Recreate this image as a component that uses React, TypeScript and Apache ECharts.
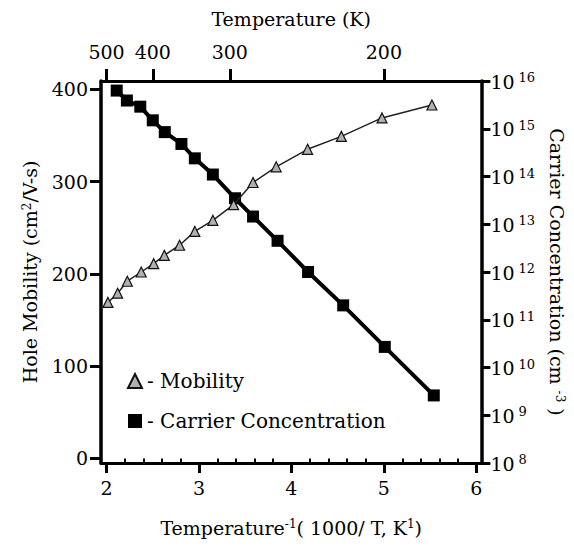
import React, { useEffect, useRef } from 'react';
import * as echarts from 'echarts';

// 1000/T (K^-1) positions of the carrier-concentration points
const invTConc = [2.11, 2.22, 2.365, 2.5, 2.63, 2.81, 2.955, 3.15, 3.39, 3.585, 3.85, 4.18, 4.56, 5.01, 5.54];
// carrier concentration (cm^-3)
const concentration = [6.3e15, 3.9e15, 2.9e15, 1.5e15, 8.5e14, 4.8e14, 2.4e14, 1.1e14, 3.5e13, 1.45e13, 4.5e12, 1.0e12, 2.0e11, 2.7e10, 2.6e9];
// 1000/T positions of the mobility points
const invTMob = [2.015, 2.12, 2.225, 2.375, 2.51, 2.625, 2.79, 2.955, 3.15, 3.375, 3.585, 3.835, 4.175, 4.54, 4.98, 5.52];
// hole mobility (cm^2/V-s)
const mobility = [169, 179, 192, 202, 211, 220, 231, 246, 258, 275, 299, 316, 335, 349, 369, 383];

const bottomTicks = [2, 3, 4, 5, 6];
const bottomMinorTicks = [2.2, 2.4, 2.6, 2.8, 3.2, 3.4, 3.6, 3.8, 4.2, 4.4, 4.6, 4.8, 5.2, 5.4, 5.6, 5.8];
const topTempsK = [500, 400, 300, 200];
const mobilityTicks = [0, 100, 200, 300, 400];
const concTicks = [1e8, 1e9, 1e10, 1e11, 1e12, 1e13, 1e14, 1e15, 1e16];

const FONT = 'DejaVu Serif';
const X_MIN = 1.94;
const X_MAX = 6.055;

export default function App() {
  const ref = useRef<HTMLDivElement>(null);
  useEffect(() => {
    if (!ref.current) return;
    const chart = echarts.init(ref.current, undefined, { renderer: 'svg' });
    const axisLine = { show: true, onZero: false, lineStyle: { color: '#000', width: 3 } };
    const supRich = { sup: { fontSize: 12, fontFamily: FONT, color: '#000', verticalAlign: 'top', lineHeight: 12, padding: [0, 0, 8, 0] } };
    const option: any = {
      animation: false,
      backgroundColor: '#fff',
      grid: { left: 101, right: 92, top: 81, bottom: 83, containLabel: false },
      xAxis: [
        {
          type: 'value', position: 'bottom', min: X_MIN, max: X_MAX,
          axisLine,
          axisTick: { show: true, customValues: bottomTicks, length: 10, lineStyle: { color: '#000', width: 3 } },
          axisLabel: { customValues: bottomTicks, fontSize: 19, fontFamily: FONT, color: '#000', margin: 15 },
          splitLine: { show: false },
          name: 'Temperature{sup|-1}( 1000/ T, K{sup|1})',
          nameLocation: 'middle', nameGap: 55,
          nameTextStyle: { fontFamily: FONT, fontSize: 19, color: '#000', rich: supRich },
        },
        {
          type: 'value', position: 'bottom', min: X_MIN, max: X_MAX,
          axisLine: { show: false },
          axisTick: { show: true, customValues: bottomMinorTicks, length: 4, lineStyle: { color: '#000', width: 2 } },
          axisLabel: { show: false },
          splitLine: { show: false },
        },
        {
          type: 'value', position: 'top', min: X_MIN, max: X_MAX,
          axisLine,
          axisTick: { show: true, customValues: topTempsK.map((t) => 1000 / t), length: 12, lineStyle: { color: '#000', width: 3 } },
          axisLabel: {
            customValues: topTempsK.map((t) => 1000 / t),
            formatter: (v: number) => String(Math.round(1000 / v)),
            fontSize: 19, fontFamily: FONT, color: '#000', margin: 20,
          },
          splitLine: { show: false },
          name: 'Temperature (K)', nameLocation: 'middle', nameGap: 53,
          nameTextStyle: { fontFamily: FONT, fontSize: 19, color: '#000' },
        },
      ],
      yAxis: [
        {
          type: 'value', position: 'left', min: -5, max: 409,
          axisLine: { show: true, onZero: false, lineStyle: { color: '#000', width: 3.5 } },
          axisTick: { show: true, customValues: mobilityTicks, length: 11, lineStyle: { color: '#000', width: 3 } },
          axisLabel: { customValues: mobilityTicks, fontSize: 19, fontFamily: FONT, color: '#000', margin: 13 },
          splitLine: { show: false },
          name: 'Hole Mobility (cm{sup|2}/V-s)', nameLocation: 'middle', nameGap: 58,
          nameTextStyle: { fontFamily: FONT, fontSize: 19, color: '#000', rich: supRich },
        },
        {
          type: 'log', logBase: 10, position: 'right', min: 1e8, max: 1e16,
          axisLine: { show: true, onZero: false, lineStyle: { color: '#000', width: 3.5 } },
          axisTick: { show: true, customValues: concTicks, length: 9, lineStyle: { color: '#000', width: 3 } },
          axisLabel: {
            customValues: concTicks,
            formatter: (v: number) => '{b|10}{sup|' + Math.round(Math.log10(v)) + '}',
            margin: 9,
            rich: {
              b: { fontSize: 19, fontFamily: FONT, color: '#000', verticalAlign: 'bottom', lineHeight: 20, padding: [14, 0, 0, 0] },
              sup: { fontSize: 13, fontFamily: FONT, color: '#000', verticalAlign: 'top', lineHeight: 14, padding: [0, 0, 0, 4] },
            },
          },
          splitLine: { show: false },
          name: 'Carrier Concentration (cm {sup|-3} )', nameLocation: 'middle', nameGap: 60, nameRotate: -90,
          nameTextStyle: { fontFamily: FONT, fontSize: 19, color: '#000', rich: supRich },
        },
      ],
      legend: {
        orient: 'vertical', left: 122, top: 366,
        itemWidth: 14, itemHeight: 14, itemGap: 20,
        data: [{ name: 'Mobility', icon: 'triangle' }, { name: 'Carrier Concentration', icon: 'rect' }],
        formatter: (n: string) => '- ' + n,
        textStyle: { fontFamily: FONT, fontSize: 20, color: '#000' },
      },
      series: [
        {
          name: 'Mobility', type: 'line', xAxisIndex: 0, yAxisIndex: 0,
          data: invTMob.map((x, i) => [x, mobility[i]]),
          symbol: 'triangle', symbolSize: 10,
          lineStyle: { color: '#222', width: 1.5 },
          itemStyle: { color: '#b0b0b0', borderColor: '#111', borderWidth: 1.2 },
          z: 3,
        },
        {
          name: 'Carrier Concentration', type: 'line', xAxisIndex: 0, yAxisIndex: 1,
          data: invTConc.map((x, i) => [x, concentration[i]]),
          symbol: 'rect', symbolSize: 12,
          lineStyle: { color: '#000', width: 4 },
          itemStyle: { color: '#000' },
          z: 2,
        },
      ],
    };
    chart.setOption(option);
    return () => chart.dispose();
  }, []);
  return <div ref={ref} style={{ position: 'absolute', left: 0, top: 0, width: 574, height: 546 }} />;
}
